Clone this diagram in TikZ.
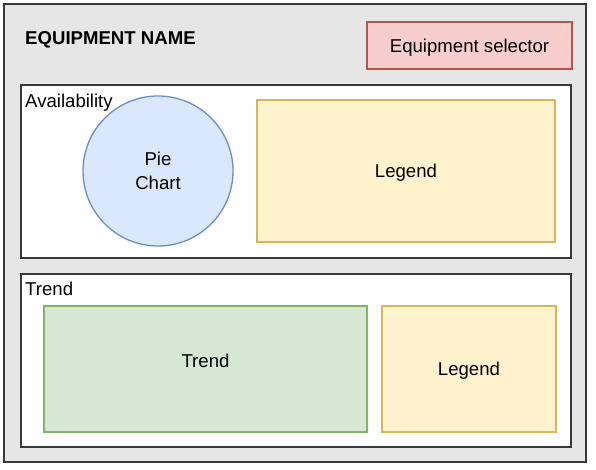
\documentclass[tikz,border=0pt]{standalone}
\usepackage{fontspec}
\setmainfont{Liberation Sans}
\usetikzlibrary{positioning}

\definecolor{panelgray}{HTML}{E6E6E6}
\definecolor{panelline}{HTML}{36393D}
\definecolor{redfill}{HTML}{F8CECC}
\definecolor{redline}{HTML}{B85450}
\definecolor{bluefill}{HTML}{DAE8FC}
\definecolor{blueline}{HTML}{6C8EBF}
\definecolor{yellowfill}{HTML}{FFF2CC}
\definecolor{yellowline}{HTML}{D6B656}
\definecolor{greenfill}{HTML}{D5E8D4}
\definecolor{greenline}{HTML}{82B366}

\begin{document}
\begin{tikzpicture}[x=1pt, y=-1pt,
  every node/.style={font=\fontsize{18.6}{24}\selectfont},
  frame/.style={draw=panelline, line width=1.6pt, rectangle, inner sep=0pt},
  widget/.style={rectangle, line width=1.3pt, inner sep=0pt, align=center,
    text height=13.3pt, text depth=0pt},
  caption/.style={anchor=base west, inner sep=0pt}]
\useasboundingbox (0,0) rectangle (596,470);

% Outer panel
\node[frame, fill=panelgray, minimum width=582pt, minimum height=458pt] (panel) at (295,233) {};
\node[caption, font=\fontsize{18.6}{24}\selectfont\bfseries] (title) at (25,45) {EQUIPMENT NAME};
\node[widget, fill=redfill, draw=redline, minimum width=205pt, minimum height=47pt] (selector) at (469.5,45.5) {Equipment selector};

% Availability section
\node[frame, fill=white, minimum width=550pt, minimum height=173pt] (avail) at (296,171.5) {};
\node[caption] (availlabel) at (25,108) {Availability};
\node[widget, circle, fill=bluefill, draw=blueline, minimum size=150pt, text height=37.3pt] (pie) at (158,171) {Pie\\Chart};
\node[widget, fill=yellowfill, draw=yellowline, minimum width=298pt, minimum height=142pt] (legendtop) at (406,171) {Legend};

% Trend section
\node[frame, fill=white, minimum width=550pt, minimum height=173pt] (trend) at (296,360.5) {};
\node[caption] (trendlabel) at (25,295) {Trend};
\node[widget, fill=greenfill, draw=greenline, minimum width=323pt, minimum height=126pt] (trendchart) at (205.5,369) {\raisebox{8pt}{Trend}};
\node[widget, fill=yellowfill, draw=yellowline, minimum width=174pt, minimum height=126pt] (legendbot) at (469,369) {Legend};
\end{tikzpicture}
\end{document}
